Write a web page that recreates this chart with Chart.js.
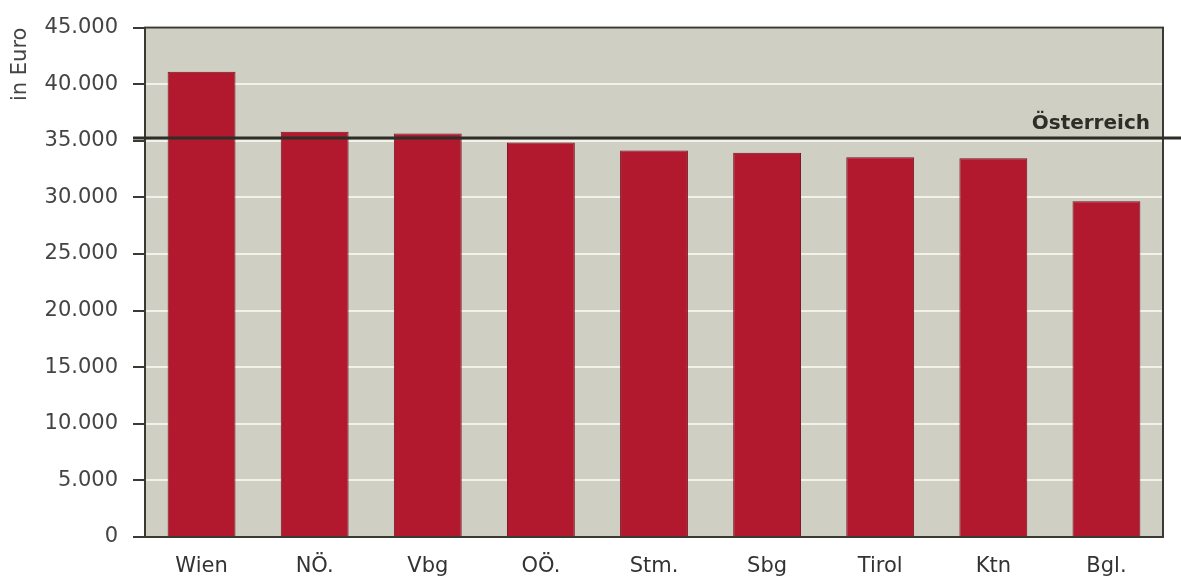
<!DOCTYPE html>
<html>
<head>
<meta charset="utf-8">
<script src="https://cdn.jsdelivr.net/npm/chart.js@4/dist/chart.umd.min.js"></script>
<style>
  html, body { margin: 0; padding: 0; background: #fff; }
  #wrap { width: 1181px; height: 579px; }
</style>
</head>
<body>
<div id="wrap"><canvas id="c" width="1181" height="579"></canvas></div>
<script>
const regions = ['Wien', 'NÖ.', 'Vbg', 'OÖ.', 'Stm.', 'Sbg', 'Tirol', 'Ktn', 'Bgl.'];
const income = [41100, 35800, 35650, 34850, 34150, 33950, 33550, 33450, 29650];
const austriaValue = 35250;
const austriaLabel = 'Österreich';
const yTicks = [0, 5000, 10000, 15000, 20000, 25000, 30000, 35000, 40000, 45000];

const fmt = v => v === 0 ? '0' : v.toLocaleString('de-DE');
const FONT = '"DejaVu Sans", Arial, sans-serif';

// grey plot background + framed border
const plotBg = {
  id: 'plotBg',
  beforeDraw(chart) {
    const { ctx, chartArea: a } = chart;
    ctx.save();
    ctx.fillStyle = '#cfcfc4';
    ctx.fillRect(a.left, a.top, a.right - a.left, a.bottom - a.top);
    ctx.restore();
  },
  afterDatasetsDraw(chart) {
    const { ctx, chartArea: a } = chart;
    ctx.save();
    ctx.strokeStyle = '#3a3a33';
    ctx.lineWidth = 2;
    ctx.strokeRect(a.left, a.top, a.right - a.left, a.bottom - a.top);
    ctx.restore();
  }
};

// national average line
const austriaLine = {
  id: 'austriaLine',
  afterDraw(chart) {
    const { ctx, chartArea: a, scales } = chart;
    const y = scales.y.getPixelForValue(austriaValue);
    ctx.save();
    ctx.strokeStyle = '#2e2e28';
    ctx.lineWidth = 3;
    ctx.beginPath();
    ctx.moveTo(a.left - 12, y);
    ctx.lineTo(chart.width, y);
    ctx.stroke();
    ctx.fillStyle = '#2e2e28';
    ctx.font = 'bold 20px ' + FONT;
    ctx.textAlign = 'right';
    ctx.textBaseline = 'alphabetic';
    ctx.fillText(austriaLabel, a.right - 13, y - 9);
    ctx.restore();
  }
};

new Chart(document.getElementById('c'), {
  type: 'bar',
  data: {
    labels: regions,
    datasets: [{
      data: income,
      backgroundColor: '#b2192f',
      borderColor: '#761320',
      borderWidth: 1,
      barPercentage: 0.6,
      categoryPercentage: 1.0
    }]
  },
  options: {
    responsive: false,
    animation: false,
    layout: { padding: { top: 27, right: 18, left: 0, bottom: 0 } },
    plugins: { legend: { display: false }, tooltip: { enabled: false } },
    scales: {
      x: {
        afterFit: s => { s.height = 42; },
        grid: { display: false },
        border: { display: false },
        ticks: {
          color: '#333',
          padding: 9,
          font: { family: FONT, size: 21 }
        }
      },
      y: {
        min: 0,
        max: 45000,
        afterFit: s => { s.width = 145; },
        afterBuildTicks: s => { s.ticks = yTicks.map(v => ({ value: v })); },
        title: {
          display: true,
          text: 'in Euro',
          align: 'end',
          color: '#444',
          padding: { top: 8, bottom: 0 },
          font: { family: FONT, size: 21 }
        },
        border: { display: false },
        grid: {
          color: '#f2f2ea',
          lineWidth: 2,
          drawTicks: true,
          tickLength: 12,
          tickColor: '#3a3a33',
          tickWidth: 2
        },
        ticks: {
          color: '#444',
          padding: 15,
          callback: v => fmt(v),
          font: { family: FONT, size: 21 }
        }
      }
    }
  },
  plugins: [plotBg, austriaLine]
});
</script>
</body>
</html>
